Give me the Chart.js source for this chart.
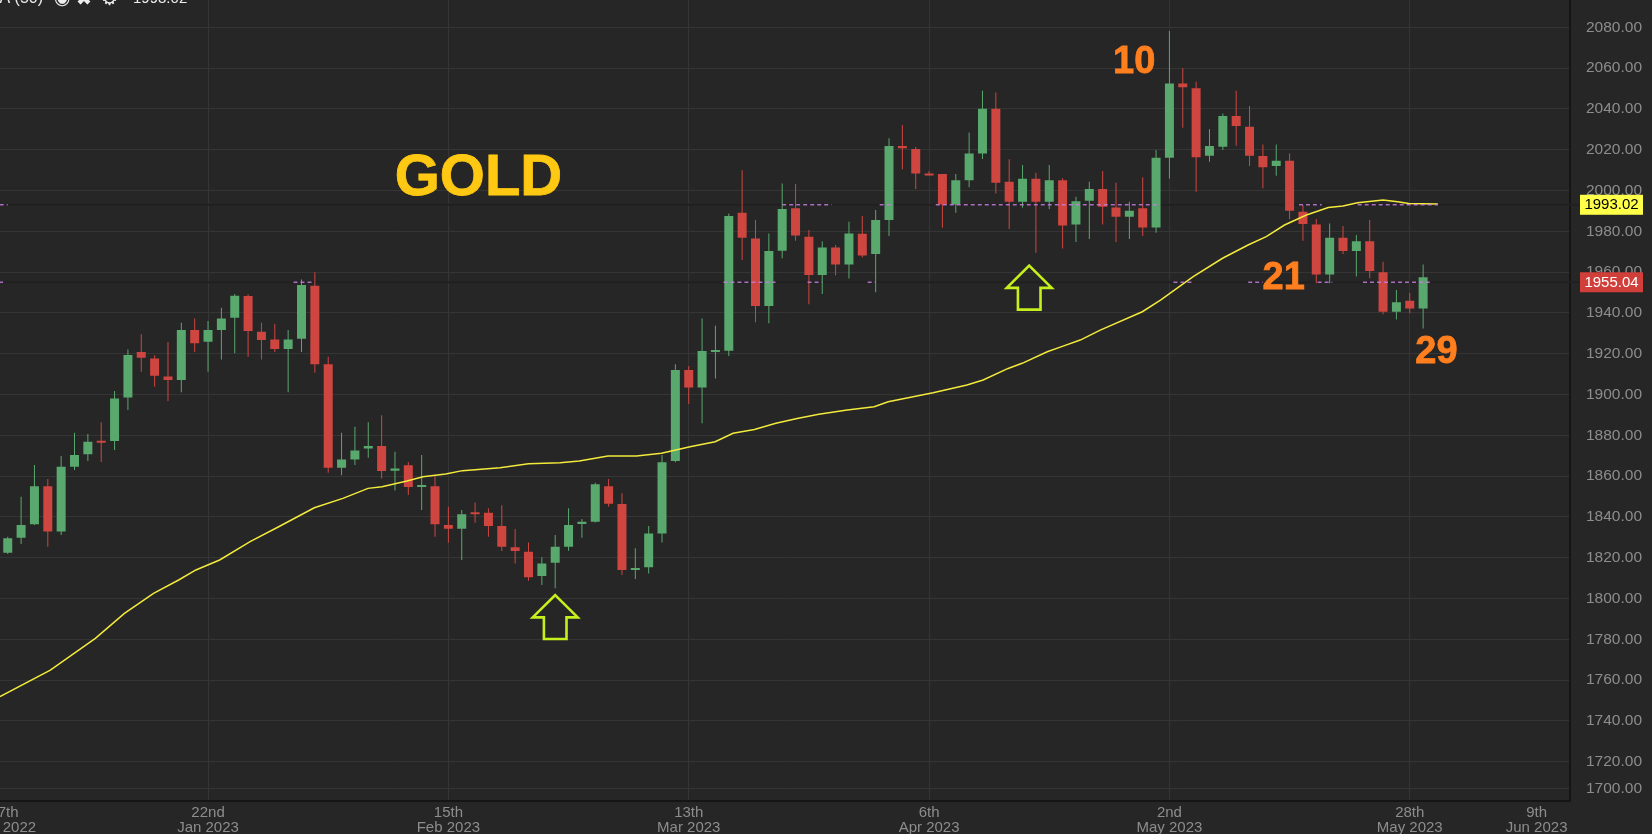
<!DOCTYPE html>
<html><head><meta charset="utf-8">
<script src="https://cdn.jsdelivr.net/npm/chart.js@4.4.0/dist/chart.umd.min.js"></script>
<style>html,body{margin:0;padding:0;background:#262626;overflow:hidden}#wrap{position:relative;width:1652px;height:834px}</style>
</head><body><div id="wrap"><canvas id="c" width="1652" height="834"></canvas></div>
<script>
// ---- candle data (index = trading-day slot) ----
const opens  = [1822.5,1829.8,1836.4,1855.1,1832.8,1864.6,1870.7,1876.9,1877.2,1898.5,1920.8,1917.7,1908.9,1907.1,1931.6,1925.9,1931.6,1937.7,1948.3,1930.8,1927.0,1922.3,1927.4,1953.3,1914.8,1864.1,1868.2,1873.6,1874.8,1862.7,1865.3,1854.7,1855.1,1836.0,1834.2,1841.8,1842.1,1835.5,1825.2,1822.9,1811.0,1817.6,1825.4,1836.5,1837.7,1855.1,1846.3,1814.0,1815.3,1831.9,1867.4,1912.0,1903.5,1920.8,1921.5,1989.1,1976.5,1943.4,1970.5,1991.3,1977.4,1958.6,1972.1,1963.8,1978.8,1968.9,1985.5,2021.8,2020.3,2008.1,2008.1,1993.2,2005.1,2018.2,2040.1,2004.3,1994.5,2005.8,1994.5,2005.0,1983.4,1995.0,2000.7,1991.7,1987.2,1991.3,1981.9,2016.1,2052.5,2050.1,2017.1,2021.5,2036.5,2031.3,2016.9,2012.0,2014.6,1989.6,1983.4,1958.9,1976.9,1970.3,1975.2,1959.9,1940.6,1946.0,1942.2];
const highs  = [1830.3,1849.9,1865.4,1858.6,1869.9,1881.3,1880.6,1886.4,1901.7,1922.1,1929.5,1919.2,1925.7,1935.2,1937.3,1936.0,1942.6,1949.3,1949.1,1935.2,1934.6,1931.6,1956.4,1959.9,1918.5,1881.3,1884.2,1886.4,1889.9,1872.0,1866.9,1870.4,1860.0,1845.0,1843.4,1847.1,1844.2,1845.7,1834.1,1827.5,1820.2,1831.1,1844.2,1839.0,1856.8,1858.6,1851.6,1824.6,1835.5,1870.4,1914.8,1914.0,1937.3,1933.7,1988.8,2010.0,1985.5,1979.0,2003.5,2003.2,1980.6,1975.2,1973.3,1984.7,1987.5,1990.4,2025.6,2032.1,2021.3,2009.6,2008.1,2008.1,2028.5,2048.9,2048.1,2015.3,2012.5,2008.7,2012.5,2006.0,1997.0,2004.3,2009.6,2003.8,1994.5,2006.5,2019.9,2078.2,2059.9,2053.3,2030.0,2037.8,2048.9,2041.4,2022.6,2022.6,2018.2,1992.9,1986.0,1983.9,1982.6,1978.2,1985.5,1965.1,1951.2,1949.9,1963.8];
const lows   = [1821.8,1826.7,1836.0,1825.4,1831.1,1863.0,1867.4,1866.9,1872.8,1892.4,1911.2,1903.8,1896.8,1901.1,1920.8,1911.2,1917.2,1920.2,1918.5,1917.2,1920.8,1901.1,1920.8,1910.7,1861.7,1860.4,1865.4,1869.0,1858.9,1853.0,1850.7,1843.4,1830.3,1827.4,1818.9,1837.2,1830.3,1823.3,1817.2,1808.7,1806.6,1805.0,1823.4,1829.8,1837.3,1845.0,1811.5,1809.6,1812.3,1827.5,1866.8,1895.3,1885.9,1907.8,1918.9,1965.9,1935.4,1934.9,1966.8,1975.4,1944.2,1949.3,1958.4,1956.9,1967.2,1950.1,1977.7,2010.4,2000.7,2007.4,1981.8,1989.1,2001.6,2015.4,1998.6,1981.1,1991.6,1969.5,1990.8,1971.6,1974.8,1976.2,1983.4,1974.8,1976.2,1977.7,1979.3,2005.9,2030.8,1999.4,2014.1,2019.9,2022.0,2012.0,2001.1,2007.3,1985.9,1975.4,1954.5,1954.5,1968.9,1957.8,1957.0,1939.3,1936.8,1939.8,1932.4];
const closes = [1829.5,1836.0,1855.1,1832.8,1864.6,1870.4,1876.9,1876.4,1898.1,1919.4,1918.0,1909.2,1907.1,1931.6,1925.2,1931.6,1937.3,1948.4,1931.1,1926.7,1922.3,1927.0,1953.7,1914.9,1864.1,1868.2,1872.6,1874.8,1862.5,1863.8,1854.7,1855.0,1836.4,1834.2,1841.3,1841.3,1835.5,1825.4,1823.3,1810.4,1817.2,1825.4,1836.0,1837.7,1856.0,1846.5,1814.0,1815.0,1831.9,1866.8,1912.0,1903.5,1921.3,1921.3,1987.5,1976.9,1943.4,1970.3,1990.9,1977.9,1958.6,1972.1,1963.8,1979.0,1968.1,1985.5,2021.8,2020.7,2008.3,2007.4,1993.2,2005.1,2018.2,2040.1,2003.8,1994.5,2005.8,1994.5,2005.0,1982.8,1994.8,2000.7,1992.1,1987.2,1990.1,1981.9,2016.1,2052.5,2050.6,2016.3,2021.8,2036.5,2031.6,2017.1,2011.4,2014.6,1990.1,1983.6,1958.9,1976.9,1970.3,1975.2,1960.5,1940.6,1945.2,1942.2,1957.5];

// ---- 50-period moving average, read at slot positions ----
const maIndex  = [-0.58,3.19,6.56,8.74,10.92,12.8,14.09,15.87,18.15,20.29,22.96,25.1,26.98,28.03,29.9,31.1,32.8,34.06,36.87,39.0,41.37,42.8,44.95,47.09,48.96,51.1,52.98,54.32,55.92,57.53,59.12,60.74,62.87,64.89,65.94,69.3,71.84,73.05,74.92,75.97,77.85,78.93,80.32,81.82,84.97,86.33,88.78,90.98,92.89,94.25,95.62,97.26,98.9,100.0,101.09,103.0,104.1,104.92,107.1];
const maValues = [1751.9,1764.9,1780.5,1792.7,1802.5,1809.1,1814.0,1818.9,1827.9,1835.2,1844.5,1849.1,1854.0,1854.8,1857.6,1859.7,1861.0,1862.7,1864.1,1866.1,1866.6,1867.4,1869.9,1869.9,1871.2,1874.4,1876.9,1881.0,1882.9,1885.9,1888.3,1890.3,1892.4,1894.0,1896.5,1900.9,1904.7,1907.1,1912.8,1915.3,1921.0,1923.5,1926.7,1931.6,1940.6,1946.3,1957.8,1966.8,1973.3,1977.4,1983.1,1988.0,1991.7,1992.4,1994.0,1995.3,1994.5,1993.7,1993.4];

// ---- axes ----
const yTickValues = [1707,1720,1740,1760,1780,1800,1820,1840,1860,1880,1900,1920,1940,1960,1980,2000,2020,2040,2060,2080];
const yTickLabels = ['1700.00','1720.00','1740.00','1760.00','1780.00','1800.00','1820.00','1840.00','1860.00','1880.00','1900.00','1920.00','1940.00','1960.00','1980.00','2000.00','2020.00','2040.00','2060.00','2080.00'];
const xTickPos    = [-0.28,15,33,51,69,87,105,114.5];
const xTickLabels = [['27th','Dec 2022'],['22nd','Jan 2023'],['15th','Feb 2023'],['13th','Mar 2023'],['6th','Apr 2023'],['2nd','May 2023'],['28th','May 2023'],['9th','Jun 2023']];
const xGridShown  = [false,true,true,true,true,true,true,false];

// ---- annotations ----
const noteTexts = ['GOLD','10','21','29'];
const noteIdx   = [28.98,82.78,93.98,105.41];
const noteVal   = [1997.8,2057.7,1951.6,1915.4];
const arrowIdx  = [41,76.5];
const arrowTip  = [1801.7,1963.2];
const priceVals = [1993.02,1955.04];
const priceText = ['1993.02','1955.04'];
const dash1993  = [[-0.6,0],[58,61.7],[65.3,66.2],[69.5,86.3],[96.7,98.4],[101.1,107.1]];
const dash1955  = [[-0.6,-0.35],[21.4,22.9],[53.6,57.5],[59.9,61],[64.4,65],[87.3,88.8],[92.9,94],[98.1,99.2],[101.5,106.5]];

const GREEN = '#59a86d', RED = '#cf4640';
const idx = opens.map((_, i) => i);
const colors = idx.map(i => closes[i] >= opens[i] ? GREEN : RED);
const FONT = '"Liberation Sans", Arial, sans-serif';

const overlay = {
  id: 'overlay',
  beforeDraw(chart) {
    const c = chart.ctx; c.save(); c.fillStyle = '#262626'; c.fillRect(0, 0, chart.width, chart.height); c.restore();
  },
  beforeDatasetsDraw(chart) {
    const c = chart.ctx, y = chart.scales.y;
    c.save();
    c.strokeStyle = '#202020'; c.lineWidth = 2;
    priceVals.forEach(v => { const py = y.getPixelForValue(v); c.beginPath(); c.moveTo(0, py); c.lineTo(1580, py); c.stroke(); });
    c.restore();
  },
  afterDatasetsDraw(chart) {
    const c = chart.ctx, x = chart.scales.x, y = chart.scales.y;
    c.save();
    c.strokeStyle = 'rgba(199,125,223,0.85)'; c.lineWidth = 1.5; c.setLineDash([4, 3]);
    [[priceVals[0], dash1993], [priceVals[1], dash1955]].forEach(([v, spans]) => {
      const py = y.getPixelForValue(v);
      spans.forEach(([a, b]) => { c.beginPath(); c.moveTo(x.getPixelForValue(a), py); c.lineTo(x.getPixelForValue(b), py); c.stroke(); });
    });
    c.setLineDash([]);
    c.textAlign = 'left'; c.textBaseline = 'alphabetic';
    noteTexts.forEach((t, k) => {
      c.font = (k === 0 ? 'bold 58px ' : 'bold 38px ') + FONT;
      c.fillStyle = k === 0 ? '#ffc812' : '#ff7f1f';
      const px = x.getPixelForValue(noteIdx[k]), py = y.getPixelForValue(noteVal[k]);
      c.fillText(t, px, py);
      c.lineWidth = 0.8; c.strokeStyle = c.fillStyle; c.strokeText(t, px, py);
    });
    c.strokeStyle = '#c6f01c'; c.lineWidth = 2.6; c.lineJoin = 'miter';
    arrowIdx.forEach((ai, k) => {
      const cx = x.getPixelForValue(ai), ty = y.getPixelForValue(arrowTip[k]);
      const hw = 22.5, sw = 11.3, hh = 22.3, H = 44;
      c.beginPath(); c.moveTo(cx, ty); c.lineTo(cx + hw, ty + hh); c.lineTo(cx + sw, ty + hh); c.lineTo(cx + sw, ty + H);
      c.lineTo(cx - sw, ty + H); c.lineTo(cx - sw, ty + hh); c.lineTo(cx - hw, ty + hh); c.closePath(); c.stroke();
    });
    c.restore();
  },
  afterDraw(chart) {
    const c = chart.ctx, y = chart.scales.y;
    c.save();
    const boxBg = ['#ffff4a', '#d13f3a'], boxFg = ['#000000', '#ffffff'];
    priceVals.forEach((v, k) => {
      const py = y.getPixelForValue(v);
      c.fillStyle = boxBg[k]; c.fillRect(1580, py - 10, 63, 20);
      c.fillStyle = boxFg[k]; c.font = '15px ' + FONT; c.textAlign = 'center'; c.textBaseline = 'middle';
      c.fillText(priceText[k], 1611.5, py + 0.5);
    });
    c.fillStyle = '#eeeeee'; c.textBaseline = 'alphabetic';
    c.font = '16px ' + FONT; c.textAlign = 'right'; c.fillText('SMA (50)', 43, 3);
    c.textAlign = 'left'; c.font = 'bold 19px "DejaVu Sans", sans-serif';
    c.fillText('\u25C9', 54, 4); c.fillText('\u2716', 76, 5); c.fillText('\u2699', 101, 5);
    c.font = '15px ' + FONT; c.fillText('1993.02', 133, 3);
    c.restore();
  }
};

new Chart(document.getElementById('c'), {
  type: 'bar',
  data: {
    datasets: [
      { type: 'line', data: maIndex.map((v, k) => ({ x: v, y: maValues[k] })), borderColor: '#f3ea3c', borderWidth: 1.5,
        pointRadius: 0, tension: 0, order: 0 },
      { data: idx.map(i => ({ x: i, y: [opens[i], closes[i]] })), backgroundColor: colors, barThickness: 9,
        grouped: false, minBarLength: 2, inflateAmount: 0, order: 1 },
      { data: idx.map(i => ({ x: i, y: [lows[i], highs[i]] })), backgroundColor: colors, barThickness: 1,
        grouped: false, inflateAmount: 0, order: 2 }
    ]
  },
  options: {
    responsive: false, animation: false,
    layout: { padding: 0 },
    plugins: { legend: { display: false }, tooltip: { enabled: false } },
    scales: {
      x: {
        type: 'linear', min: -0.58, max: 117, offset: false,
        grid: { offset: false, drawTicks: false, color: ctx => xGridShown[ctx.index] ? '#353535' : 'rgba(0,0,0,0)' },
        border: { color: '#151515', width: 2 },
        ticks: { autoSkip: false, maxRotation: 0, padding: 4, color: '#8d8d8d',
          font: { family: FONT, size: 15, lineHeight: 1.03 }, callback: (v, i) => xTickLabels[i] },
        afterBuildTicks: s => { s.ticks = xTickPos.map(v => ({ value: v })); },
        afterFit: s => { s.height = 33.3; s.paddingLeft = 0; s.paddingRight = 0; }
      },
      y: {
        type: 'linear', position: 'right', min: 1700.9, max: 2093.4,
        grid: { drawTicks: false, color: '#353535' },
        border: { color: '#151515', width: 2 },
        ticks: { autoSkip: false, padding: 16, crossAlign: 'near', color: '#8d8d8d',
          font: { family: FONT, size: 15.5 }, callback: (v, i) => yTickLabels[i] },
        afterBuildTicks: s => { s.ticks = yTickValues.map(v => ({ value: v })); },
        afterFit: s => { s.width = 82; s.paddingTop = 0; s.paddingBottom = 0; }
      }
    }
  },
  plugins: [overlay]
});
</script>
</body></html>
